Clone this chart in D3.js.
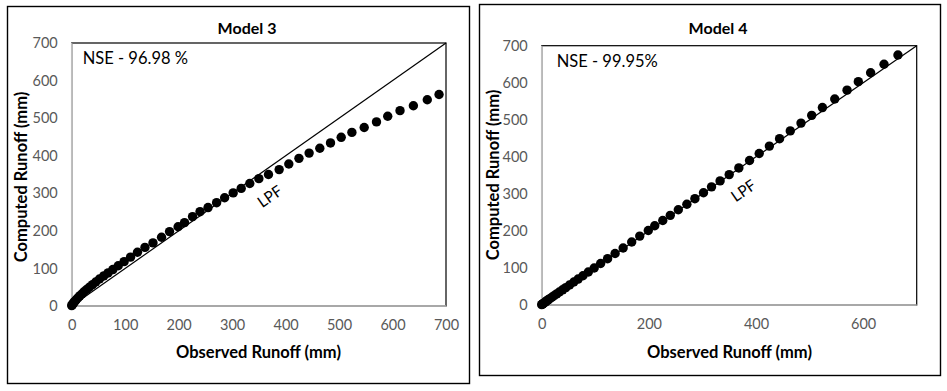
<!DOCTYPE html>
<html><head><meta charset="utf-8">
<script src="https://cdn.jsdelivr.net/npm/d3@7"></script>
<style>
body{margin:0;background:#fff}
svg{display:block}
text{font-family:Lato,"Open Sans",sans-serif}
</style>
</head><body>
<svg id="c" width="947" height="391"></svg>
<script>
// ---- data ----
const observed3 = [0,1,2,3,5,7,9,12,15,19,23,28,33,39,45,52,60,68,77,87,98,110,123,137,152,168,183,199,211,226,240,255,271,286,302,317,333,350,368,388,406,425,444,464,484,504,524,547,570,591,614,639,665,687];
const computed3 = [1,3,5,8,11,14,18,22,27,32,38,44,50,57,64,72,80,88,97,107,118,130,143,156,168,183,198,211,222,238,251,262,275,288,301,313,326,339,350,363,378,393,407,420,434,449,462,475,490,505,520,533,549,563];
const observed4 = [0,1,2,3,5,7,9,12,15,19,23,28,33,39,45,52,60,68,77,87,98,110,123,137,152,168,183,199,211,226,240,255,271,286,302,317,333,350,368,388,406,425,444,464,484,504,524,547,570,591,614,639,665];
const computed4 = [1,2,3,4,6,8,11,14,17,21,25,30,35,41,47,54,62,70,79,89,100,112,125,139,154,170,186,201,214,228,242,257,272,287,303,319,335,352,370,390,409,429,449,470,491,512,533,556,580,603,627,650,675];
const yTicks = [0,100,200,300,400,500,600,700];
const xTicks3 = [0,100,200,300,400,500,600,700];
const xTicks4 = [0,200,400,600];
const titles = ["Model 3","Model 4"];
const nseLabels = ["NSE - 96.98 %","NSE - 99.95%"];
const lineLabel = "LPF";
const lpfPos = [[370,293],[376,310]];
const xTitle = "Observed Runoff (mm)";
const yTitle = "Computed Runoff (mm)";

// ---- layout ----
const panels = [
  {obs:observed3, comp:computed3, xt:xTicks3, frame:[7.5,6.5,462,377], plot:[71.7,43,446,306],
   titleXY:[247,27], yTitleXY:[21,177], xTitleXY:[258.5,352], nseXY:[82.7,58]},
  {obs:observed4, comp:computed4, xt:xTicks4, frame:[479.5,4.5,461,371], plot:[541.7,45.7,916.7,305],
   titleXY:[718,27], yTitleXY:[493,175], xTitleXY:[729.5,352], nseXY:[556.7,61]}
];

const svg = d3.select("#c");
panels.forEach((p,i)=>{
  const g = svg.append("g");
  g.append("rect").attr("x",p.frame[0]).attr("y",p.frame[1]).attr("width",p.frame[2]).attr("height",p.frame[3])
    .attr("fill","#fff").attr("stroke","#000").attr("stroke-width",1.4);
  const [px0,py0,px1,py1] = p.plot;
  const x = d3.scaleLinear().domain([0,700]).range([px0,px1]);
  const y = d3.scaleLinear().domain([0,700]).range([py1,py0]);

  g.append("rect").attr("x",px0).attr("y",py0).attr("width",px1-px0).attr("height",py1-py0)
    .attr("fill","none").attr("stroke","#000").attr("stroke-width",1.2);
  g.append("line").attr("x1",px0).attr("x2",px0).attr("y1",py0).attr("y2",py1).attr("stroke","#bfbfbf").attr("stroke-width",1.5);
  g.append("line").attr("x1",px0).attr("x2",px1).attr("y1",py1).attr("y2",py1).attr("stroke","#bfbfbf").attr("stroke-width",1.5);

  const ya = g.append("g").attr("transform",`translate(${px0-14},0)`)
    .call(d3.axisLeft(y).tickValues(yTicks).tickSize(0).tickPadding(0).tickFormat(d3.format("d")));
  ya.select(".domain").remove();
  ya.selectAll("text").attr("fill","#595959").style("font-size","14.5px").style("font-family","Lato,'Open Sans',sans-serif");
  const xa = g.append("g").attr("transform",`translate(0,${py1+14})`)
    .call(d3.axisBottom(x).tickValues(p.xt).tickSize(0).tickPadding(0).tickFormat(d3.format("d")));
  xa.select(".domain").remove();
  xa.selectAll("text").attr("fill","#595959").style("font-size","14.5px").style("font-family","Lato,'Open Sans',sans-serif");

  g.append("line").attr("x1",x(0)).attr("y1",y(0)).attr("x2",x(700)).attr("y2",y(700))
    .attr("stroke","#000").attr("stroke-width",1.2);

  g.append("g").selectAll("circle").data(p.obs.map((o,k)=>[o,p.comp[k]])).join("circle")
    .attr("cx",d=>x(d[0])).attr("cy",d=>y(d[1])).attr("r",4.7).attr("fill","#000");

  const ang = -Math.atan((py1-py0)/(px1-px0))*180/Math.PI;
  g.append("text").attr("transform",`translate(${x(lpfPos[i][0])},${y(lpfPos[i][1])}) rotate(${ang})`)
    .attr("text-anchor","middle").attr("dominant-baseline","central")
    .style("font-size","15.5px").attr("fill","#000").text(lineLabel);

  g.append("text").attr("x",p.titleXY[0]).attr("y",p.titleXY[1]).attr("text-anchor","middle").attr("dominant-baseline","central")
    .style("font-size","16px").style("font-weight","bold").attr("fill","#000").text(titles[i]);
  g.append("text").attr("x",p.nseXY[0]).attr("y",p.nseXY[1]).attr("dominant-baseline","central")
    .style("font-size","16.5px").attr("fill","#000").text(nseLabels[i]);
  g.append("text").attr("transform",`translate(${p.yTitleXY[0]},${p.yTitleXY[1]}) rotate(-90)`)
    .attr("text-anchor","middle").attr("dominant-baseline","central")
    .style("font-size","16.5px").style("font-weight","bold").attr("fill","#000").text(yTitle);
  g.append("text").attr("x",p.xTitleXY[0]).attr("y",p.xTitleXY[1]).attr("text-anchor","middle").attr("dominant-baseline","central")
    .style("font-size","16.5px").style("font-weight","bold").attr("fill","#000").text(xTitle);
});
</script>
</body></html>
